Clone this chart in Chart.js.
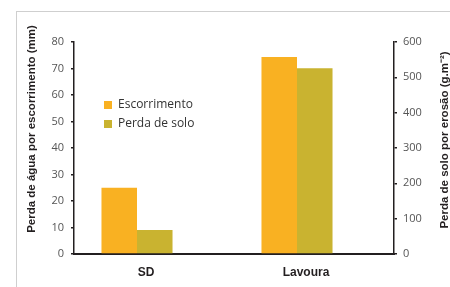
<!DOCTYPE html>
<html>
<head>
<meta charset="utf-8">
<script src="https://cdn.jsdelivr.net/npm/chart.js@4/dist/chart.umd.min.js"></script>
<style>
  html, body { margin: 0; padding: 0; background: #ffffff; }
  #wrap { position: relative; width: 450px; height: 287px; overflow: hidden; }
  #frame { position: absolute; left: 16px; top: 11px; width: 600px; height: 400px;
           border-left: 1px solid #cfcfcf; border-top: 1px solid #cfcfcf; }
  canvas { position: absolute; left: 0; top: 0; }
</style>
</head>
<body>
<div id="wrap">
  <div id="frame"></div>
  <canvas id="c" width="450" height="287"></canvas>
</div>
<script>
// ---- data ----
const categories = ['SD', 'Lavoura'];
const seriesNames = ['Escorrimento', 'Perda de solo'];
const escorrimento = [25, 74.3];      // mm (left axis)
const perdaSolo = [68, 526];          // g.m-2 (right axis)
const leftTicks = [0, 10, 20, 30, 40, 50, 60, 70, 80];
const rightTicks = [0, 100, 200, 300, 400, 500, 600];
const leftTitle = 'Perda de água por escorrimento (mm)';
const rightTitle = 'Perda de solo por erosão (g.m⁻²)';

// ---- styles ----
const colEsc = '#F9B122';
const colPerda = '#C9B330';
const axisCol = '#231f20';
const tickCol = '#555555';
const barShift = -17;       // bars sit slightly left of category centres
const titleFontCss = 'bold 11.5px "Liberation Sans", Arial, sans-serif';
const tickFont = { family: 'Open Sans, sans-serif', size: 11 };

const shiftPlugin = {
  id: 'groupShift',
  beforeDatasetsDraw(chart) { chart.ctx.save(); chart.ctx.translate(barShift, 0); },
  afterDatasetsDraw(chart) { chart.ctx.restore(); }
};
const legendPlace = {
  id: 'legendPlace',
  afterLayout(chart) {
    const lg = chart.legend, ca = chart.chartArea;
    const w = lg.width, h = lg.height;
    lg.left = ca.left + 23; lg.top = ca.top + 50;
    lg.right = lg.left + w; lg.bottom = lg.top + h;
  }
};
// both axis titles read bottom-to-top, as in the original
const axisTitles = {
  id: 'axisTitles',
  afterDraw(chart) {
    const ctx = chart.ctx, ca = chart.chartArea;
    const mid = (ca.top + ca.bottom) / 2;
    const items = [
      { text: leftTitle, x: chart.scales.y.left + 32, y: mid - 19 },
      { text: rightTitle, x: chart.scales.y2.right - 5, y: mid - 8 }
    ];
    ctx.save();
    ctx.font = titleFontCss;
    ctx.fillStyle = axisCol;
    ctx.textAlign = 'center';
    ctx.textBaseline = 'middle';
    items.forEach(it => {
      ctx.save();
      ctx.translate(it.x, it.y);
      ctx.rotate(-Math.PI / 2);
      ctx.fillText(it.text, 0, 0);
      ctx.restore();
    });
    ctx.restore();
  }
};

new Chart(document.getElementById('c'), {
  type: 'bar',
  data: {
    labels: categories,
    datasets: [
      { label: seriesNames[0], data: escorrimento, yAxisID: 'y', backgroundColor: colEsc, borderWidth: 0 },
      { label: seriesNames[1], data: perdaSolo, yAxisID: 'y2', backgroundColor: colPerda, borderWidth: 0 }
    ]
  },
  options: {
    responsive: false,
    devicePixelRatio: 1,
    animation: false,
    layout: { padding: { top: 42, left: 0, right: 0, bottom: 0 } },
    datasets: { bar: { categoryPercentage: 0.444, barPercentage: 1 } },
    plugins: {
      tooltip: { enabled: false },
      legend: {
        position: 'chartArea',
        align: 'start',
        labels: {
          boxWidth: 8, boxHeight: 8, padding: 7,
          color: '#333333',
          font: { family: 'Open Sans, sans-serif', size: 12 }
        }
      }
    },
    scales: {
      x: {
        type: 'category',
        offset: true,
        grid: { display: true, drawOnChartArea: false, drawTicks: false, color: 'rgba(0,0,0,0)' },
        border: { display: true, color: axisCol, width: 2 },
        ticks: { color: axisCol, padding: 11.5, labelOffset: -8,
                 font: { family: 'Liberation Sans, Arial, sans-serif', weight: 'bold', size: 12 } },
        afterFit(s) { s.height = 33; }
      },
      y: {
        position: 'left',
        min: 0, max: 80,
        afterBuildTicks(s) { s.ticks = leftTicks.map(v => ({ value: v })); },
        grid: { drawOnChartArea: false, drawTicks: true, tickLength: 3, color: axisCol, lineWidth: 1.5 },
        border: { display: true, color: axisCol, width: 1.5 },
        ticks: { color: tickCol, padding: 7, font: tickFont },
        title: { display: false, text: leftTitle },
        afterFit(s) { s.width = 74; }
      },
      y2: {
        position: 'right',
        min: 0, max: 600,
        afterBuildTicks(s) { s.ticks = rightTicks.map(v => ({ value: v })); },
        grid: { drawOnChartArea: false, drawTicks: true, tickLength: 3, color: axisCol, lineWidth: 1.5 },
        border: { display: true, color: axisCol, width: 1.5 },
        ticks: { color: tickCol, padding: 6, font: tickFont },
        title: { display: false, text: rightTitle },
        afterFit(s) { s.width = 56; }
      }
    }
  },
  plugins: [shiftPlugin, legendPlace, axisTitles]
});
</script>
</body>
</html>
